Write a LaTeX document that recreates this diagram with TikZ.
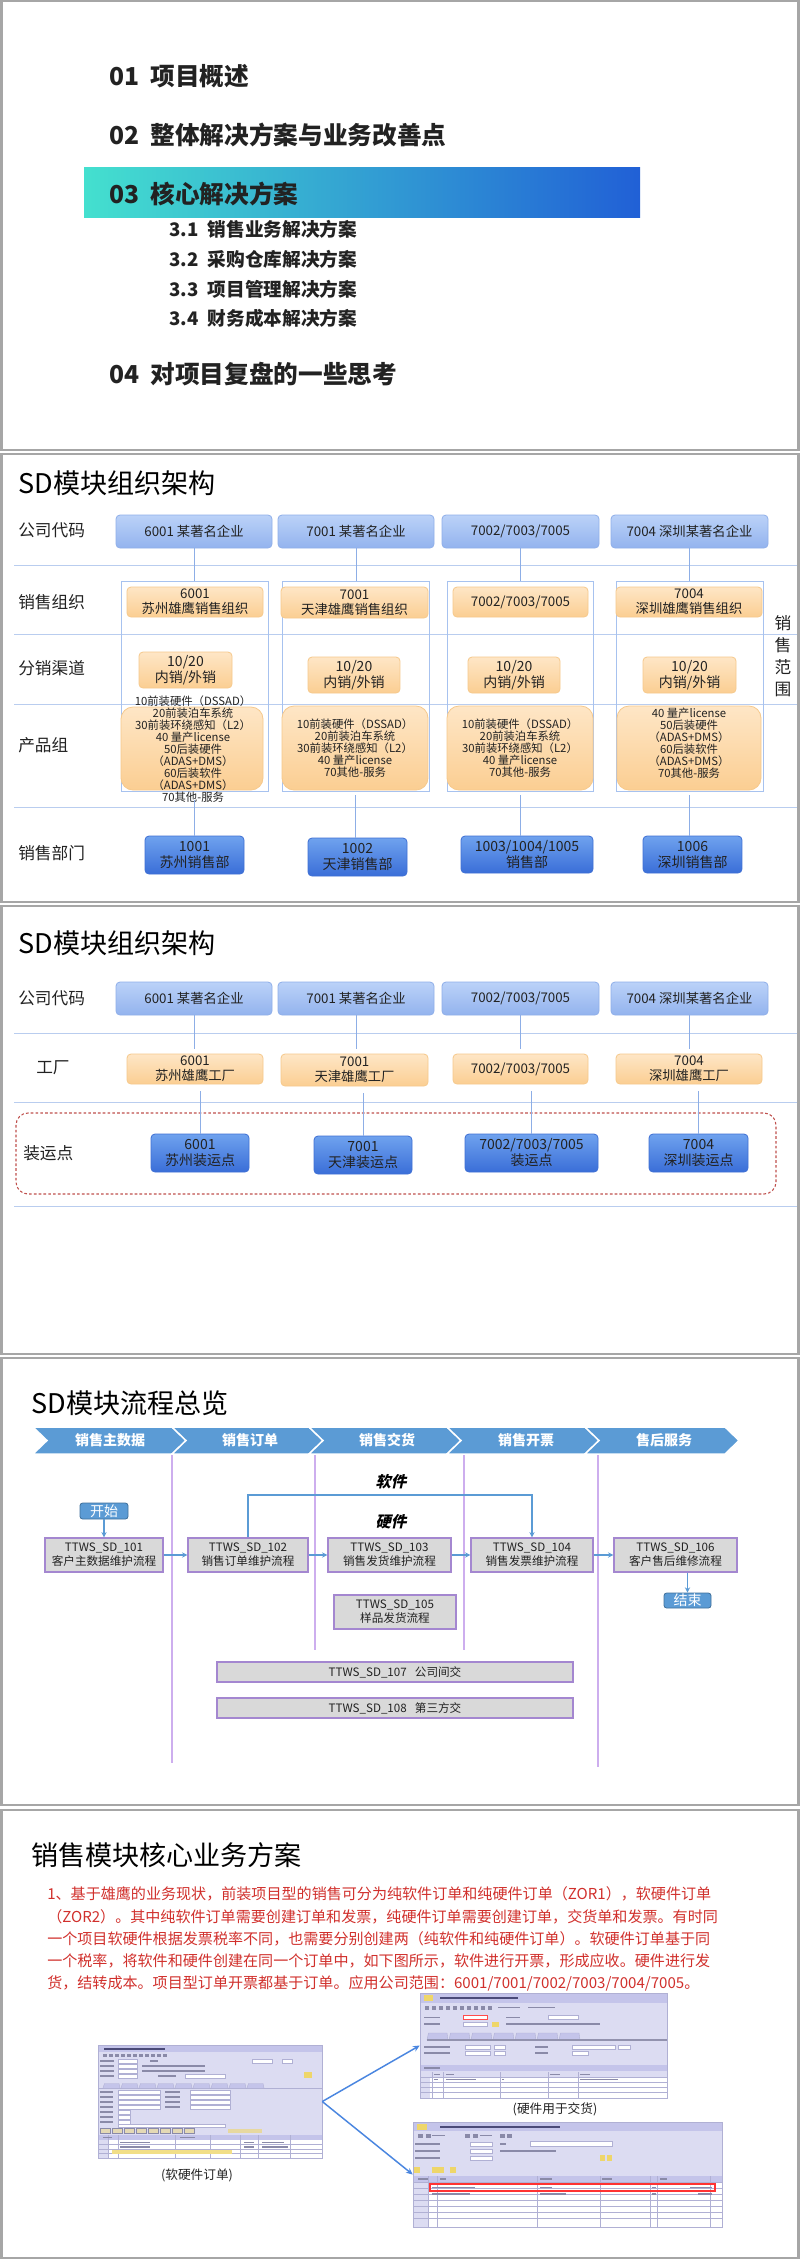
\documentclass[tikz,border=0pt]{standalone}
\usepackage{fontspec}
\setmainfont{Noto Sans CJK SC}
\newfontfamily\slantfont{Noto Sans CJK SC}[FakeSlant=0.22]
\usetikzlibrary{arrows.meta}
\definecolor{framegray}{HTML}{A6A6A6}
\definecolor{ink}{HTML}{222222}
\definecolor{coTop}{HTML}{BBD2F8}
\definecolor{coBot}{HTML}{93B3EE}
\definecolor{coLine}{HTML}{8FAFE9}
\definecolor{orTop}{HTML}{FEE6C6}
\definecolor{orBot}{HTML}{FBCE92}
\definecolor{orLine}{HTML}{F6C98C}
\definecolor{dpTop}{HTML}{6FA2EE}
\definecolor{dpBot}{HTML}{3A6ED8}
\definecolor{dpLine}{HTML}{3F70D4}
\definecolor{sepBlue}{HTML}{B9CDEF}
\definecolor{colLine}{HTML}{A7C2EF}
\definecolor{linkBlue}{HTML}{8DAEE6}
\definecolor{chev}{HTML}{5B9BD5}
\definecolor{procGray}{HTML}{D9D9D9}
\definecolor{procLine}{HTML}{A487D0}
\definecolor{purpleLine}{HTML}{CDAEEE}
\definecolor{flowBlue}{HTML}{5B9BD5}
\definecolor{termLine}{HTML}{41719C}
\definecolor{redText}{HTML}{D1302C}
\definecolor{dashRed}{HTML}{C0504D}
\definecolor{bandL}{HTML}{44E0CF}
\definecolor{bandR}{HTML}{2160D6}
\definecolor{sapBg}{HTML}{DCDCF2}
\definecolor{sapHead}{HTML}{C4C4EA}
\definecolor{sapLine}{HTML}{B0B0D4}
\definecolor{sapTxt}{HTML}{8A8AA8}
\definecolor{sapDark}{HTML}{4A4A78}
\definecolor{sapYel}{HTML}{EED66A}
\definecolor{arrowBlue}{HTML}{4A86E0}
\newcommand\fsz[2]{\fontsize{#1}{#2}\selectfont}
\newcommand\bx[7]{\node[#1, minimum width={((#5)-(#3))*0.75pt}, minimum height={((#6)-(#4))*0.75pt}] (#2) at ({((#3)+(#5))/2},{((#4)+(#6))/2}) {#7};}
\begin{document}
\begin{tikzpicture}[x=0.75pt,y=-0.75pt,
 slideframe/.style={draw=framegray,line width=1.6pt},
 ttl/.style={anchor=west,inner sep=0pt,font=\fsz{20.3}{24},text=black},
 rowlbl/.style={anchor=west,inner sep=0pt,font=\fsz{12.5}{15},text=ink},
 hOne/.style={anchor=west,inner sep=0pt,font=\fsz{18.5}{22}\bfseries,text=ink},
 hTwo/.style={anchor=west,inner sep=0pt,font=\fsz{14}{17}\bfseries,text=ink},
 boxbase/.style={inner sep=0pt,align=center,text=ink,line width=0.6pt},
 cobox/.style={boxbase,rounded corners=3pt,top color=coTop,bottom color=coBot,draw=coLine,font=\fsz{10}{12}},
 orbox/.style={boxbase,rounded corners=3pt,top color=orTop,bottom color=orBot,draw=orLine,font=\fsz{10}{11.3}},
 chbox/.style={orbox,font=\fsz{10.5}{12}},
 pgbox/.style={boxbase,rounded corners=9pt,top color=orTop,bottom color=orBot,draw=orLine},
 pgtext/.style={inner sep=0pt,align=center,text=ink,font=\fsz{8.5}{8.95}},
 dpbox/.style={boxbase,rounded corners=3pt,top color=dpTop,bottom color=dpBot,draw=dpLine,font=\fsz{10.5}{12}},
 colout/.style={draw=colLine,line width=0.6pt,inner sep=0pt},
 sepline/.style={draw=sepBlue,line width=0.7pt},
 vlink/.style={draw=linkBlue,line width=0.6pt},
 chevtxt/.style={inner sep=0pt,text=white,font=\fsz{10.5}{12}\bfseries},
 purp/.style={draw=purpleLine,line width=0.8pt},
 procbox/.style={boxbase,fill=procGray,draw=procLine,line width=0.9pt,font=\fsz{8.7}{10.5}},
 termbox/.style={boxbase,rounded corners=2pt,fill=chev,draw=termLine,text=white,font=\fsz{10.5}{12}},
 flowarr/.style={draw=flowBlue,line width=1.2pt,-{Stealth[length=4pt,width=4pt]}},
 slantlbl/.style={inner sep=0pt,font=\fsz{11.5}{13}\slantfont\bfseries,text=black},
 redline/.style={anchor=west,inner sep=0pt,text=redText,font=\fsz{11.3}{13}},
 sap/.style={fill=sapBg,draw=sapLine,line width=0.4pt,inner sep=0pt},
 sapT/.style={draw=sapTxt,line width=1.2pt},
 sapBox/.style={fill=white,draw=sapLine,line width=0.3pt},
 capt/.style={inner sep=0pt,text=ink,font=\fsz{9.5}{11}},
 sarrow/.style={draw=arrowBlue,line width=1.1pt,-{Stealth[length=5pt,width=4.5pt]}},
]
\useasboundingbox (0,0) rectangle (800,2259);
\fill[white] (0,0) rectangle (800,2259);
\foreach \t/\b in {0/450,453/902,905/1354,1357/1805,1809/2258}
  \draw[slideframe] (1.5,{\t+1}) rectangle (798.5,\b);

% ================= Slide 1 =================
\shade[left color=bandL,right color=bandR] (84,167) rectangle (640,217);
\node[hOne] (t01) at (109,76) {01\hspace{0.45em}项目概述};
\node[hOne] (t02) at (109,135) {02\hspace{0.45em}整体解决方案与业务改善点};
\node[hOne] (t03) at (109,194) {03\hspace{0.45em}核心解决方案};
\node[hTwo] (t31) at (169,229.5) {3.1\hspace{0.5em}销售业务解决方案};
\node[hTwo] (t32) at (169,259) {3.2\hspace{0.5em}采购仓库解决方案};
\node[hTwo] (t33) at (169,289) {3.3\hspace{0.5em}项目管理解决方案};
\node[hTwo] (t34) at (169,318) {3.4\hspace{0.5em}财务成本解决方案};
\node[hOne] (t04) at (109,374) {04\hspace{0.45em}对项目复盘的一些思考};

% ================= Slide 2 =================
\node[ttl] (s2t) at (18,483) {SD模块组织架构};
\node[rowlbl] (l2a) at (18,530) {公司代码};
\node[rowlbl] (l2b) at (18,602) {销售组织};
\node[rowlbl] (l2c) at (18,668) {分销渠道};
\node[rowlbl] (l2d) at (18,745) {产品组};
\node[rowlbl] (l2e) at (18,853) {销售部门};
\foreach \y in {565,634,704,807} \draw[sepline] (14,\y) -- (797,\y);
\bx{cobox}{a1}{116}{515}{272}{548}{6001 某著名企业}
\bx{cobox}{a2}{278}{515}{434}{548}{7001 某著名企业}
\bx{cobox}{a3}{442}{515}{599}{548}{7002/7003/7005}
\bx{cobox}{a4}{611}{515}{768}{548}{7004 深圳某著名企业}
\bx{colout}{k1}{121}{581}{268}{791}{}
\bx{colout}{k2}{282}{581}{429}{791}{}
\bx{colout}{k3}{447}{581}{593}{791}{}
\bx{colout}{k4}{616}{581}{763}{791}{}
\bx{orbox}{o1}{127}{587}{263}{617}{6001\\苏州雄鹰销售组织}
\bx{orbox}{o2}{281}{587}{428}{618}{7001\\天津雄鹰销售组织}
\bx{orbox}{o3}{453}{587}{588}{617}{7002/7003/7005}
\bx{orbox}{o4}{616}{587}{762}{617}{7004\\深圳雄鹰销售组织}
\bx{chbox}{d1}{139}{652}{232}{688}{10/20\\内销/外销}
\bx{chbox}{d2}{308}{657}{400}{693}{10/20\\内销/外销}
\bx{chbox}{d3}{468}{657}{560}{693}{10/20\\内销/外销}
\bx{chbox}{d4}{643}{657}{736}{693}{10/20\\内销/外销}
\bx{pgbox}{g1}{121}{707}{263}{790}{}
\bx{pgbox}{g2}{282}{706}{428}{790}{}
\bx{pgbox}{g3}{447}{706}{593}{790}{}
\bx{pgbox}{g4}{617}{706}{761}{790}{}
\node[pgtext] (g1t) at (193,749) {10前装硬件（DSSAD）\\20前装泊车系统\\30前装环绕感知（L2）\\40 量产license\\50后装硬件\\（ADAS+DMS）\\60后装软件\\（ADAS+DMS）\\70其他-服务};
\node[pgtext] (g2t) at (355,748) {10前装硬件（DSSAD）\\20前装泊车系统\\30前装环绕感知（L2）\\40 量产license\\70其他-服务};
\node[pgtext] (g3t) at (520,748) {10前装硬件（DSSAD）\\20前装泊车系统\\30前装环绕感知（L2）\\40 量产license\\70其他-服务};
\node[pgtext] (g4t) at (689,743) {40 量产license\\50后装硬件\\（ADAS+DMS）\\60后装软件\\（ADAS+DMS）\\70其他-服务};
\bx{dpbox}{e1}{145}{836}{244}{874}{1001\\苏州销售部}
\bx{dpbox}{e2}{308}{838}{407}{876}{1002\\天津销售部}
\bx{dpbox}{e3}{461}{836}{593}{873}{1003/1004/1005\\销售部}
\bx{dpbox}{e4}{643}{836}{742}{873}{1006\\深圳销售部}
\foreach \i in {1,2,3,4} \draw[vlink] (a\i.south) -- (a\i.south |- k\i.north);
\draw[vlink,shorten <=6.5pt] (k1.south) -- (k1.south |- e1.north);
\foreach \i in {2,3,4} \draw[vlink,shorten <=3pt] (k\i.south) -- (k\i.south |- e\i.north);
\node[rowlbl,anchor=center,align=center,font=\fsz{12.5}{16.5}] (scope) at (783,656) {销\\售\\范\\围};

% ================= Slide 3 =================
\node[ttl] (s3t) at (18,943) {SD模块组织架构};
\node[rowlbl] (l3a) at (18,998) {公司代码};
\node[rowlbl] (l3b) at (36,1068) {工厂};
\node[rowlbl] (l3c) at (23,1153) {装运点};
\foreach \y in {1033,1102,1206} \draw[sepline] (14,\y) -- (797,\y);
\bx{cobox}{b1}{116}{982}{272}{1015}{6001 某著名企业}
\bx{cobox}{b2}{278}{982}{434}{1015}{7001 某著名企业}
\bx{cobox}{b3}{442}{982}{599}{1015}{7002/7003/7005}
\bx{cobox}{b4}{611}{982}{768}{1015}{7004 深圳某著名企业}
\bx{orbox}{p1}{127}{1054}{263}{1084}{6001\\苏州雄鹰工厂}
\bx{orbox}{p2}{281}{1054}{428}{1086}{7001\\天津雄鹰工厂}
\bx{orbox}{p3}{453}{1054}{588}{1084}{7002/7003/7005}
\bx{orbox}{p4}{616}{1054}{762}{1084}{7004\\深圳雄鹰工厂}
\draw[dashRed,line width=0.8pt,dash pattern=on 2pt off 1.6pt,rounded corners=9pt] (16,1113) rectangle (776,1194);
\bx{dpbox}{q1}{151}{1134}{249}{1172}{6001\\苏州装运点}
\bx{dpbox}{q2}{314}{1136}{412}{1174}{7001\\天津装运点}
\bx{dpbox}{q3}{465}{1134}{598}{1172}{7002/7003/7005\\装运点}
\bx{dpbox}{q4}{649}{1134}{748}{1172}{7004\\深圳装运点}
\foreach \i in {1,2,3,4} \draw[vlink,shorten >=3.7pt] (b\i.south) -- (b\i.south |- p\i.north);
\foreach \i in {1,2,3,4} \draw[vlink,shorten >=5pt] (q\i.north) -- (q\i.north |- p\i.south);

% ================= Slide 4 =================
\node[ttl] (s4t) at (31,1403) {SD模块流程总览};
\foreach \L/\R/\tx/\lab [count=\i] in {33/172/110/销售主数据,172/309/250/销售订单,309/447/387/销售交货,447/585/526/销售开票,585/725/664/售后服务}{
  \filldraw[fill=chev,draw=white,line width=1.1pt] (\L,1427) -- (\R,1427) -- ({\R+14},1440.5) -- (\R,1454) -- (\L,1454) -- ({\L+14},1440.5) -- cycle;
  \node[chevtxt] (chev\i) at (\tx,1440.5) {\lab};
}
\draw[purp] (172,1455) -- (172,1763);
\draw[purp] (315,1455) -- (315,1650);
\draw[purp] (464,1455) -- (464,1650);
\draw[purp] (598,1455) -- (598,1767);
\bx{procbox}{f101}{45}{1538}{163}{1572}{TTWS\_SD\_101\\客户主数据维护流程}
\bx{procbox}{f102}{188}{1538}{308}{1572}{TTWS\_SD\_102\\销售订单维护流程}
\bx{procbox}{f103}{328}{1538}{451}{1572}{TTWS\_SD\_103\\销售发货维护流程}
\bx{procbox}{f104}{471}{1538}{593}{1572}{TTWS\_SD\_104\\销售发票维护流程}
\bx{procbox}{f106}{614}{1538}{737}{1572}{TTWS\_SD\_106\\客户售后维修流程}
\bx{procbox}{f105}{334}{1595}{456}{1629}{TTWS\_SD\_105\\样品发货流程}
\bx{procbox}{f107}{217}{1662}{573}{1682}{TTWS\_SD\_107\hspace{0.7em}公司间交}
\bx{procbox}{f108}{217}{1698}{573}{1718}{TTWS\_SD\_108\hspace{0.7em}第三方交}
\bx{termbox}{startnode}{80}{1503}{128}{1519}{开始}
\bx{termbox}{stopnode}{664}{1593}{711}{1608}{结束}
\node[slantlbl] (swlbl) at (391,1482) {软件};
\node[slantlbl] (hwlbl) at (391,1522) {硬件};
\draw[flowarr] (startnode.south) -- (f101.north);
\draw[flowarr] (f101.east) -- (f102.west);
\draw[flowarr] (f102.east) -- (f103.west);
\draw[flowarr] (f103.east) -- (f104.west);
\draw[flowarr] (f104.east) -- (f106.west);
\draw[flowarr] (stopnode.north |- f106.south) -- (stopnode.north);
\coordinate (swtop) at (0,1495);
\draw[flowarr] (f102.north) -- (f102.north |- swtop) -| (f104.north);

% ================= Slide 5 =================
\node[ttl] (s5t) at (31,1855) {销售模块核心业务方案};
\node[redline] (r1) at (47,1894) {1、基于雄鹰的业务现状，前装项目型的销售可分为纯软件订单和纯硬件订单（ZOR1），软硬件订单};
\node[redline] (r2) at (47,1917) {（ZOR2）。其中纯软件订单需要创建订单和发票，纯硬件订单需要创建订单，交货单和发票。有时同};
\node[redline] (r3) at (47,1939) {一个项目软硬件根据发票税率不同，也需要分别创建两（纯软件和纯硬件订单）。软硬件订单基于同};
\node[redline] (r4) at (47,1961) {一个税率，将软件和硬件创建在同一个订单中，如下图所示，软件进行开票，形成应收。硬件进行发};
\node[redline] (r5) at (47,1983) {货，结转成本。项目型订单开票都基于订单。应用公司范围：6001/7001/7002/7003/7004/7005。};

% --- left screenshot
\bx{sap}{ssL}{98}{2045}{322}{2158}{}
\fill[sapHead] (98.5,2045.5) rectangle (321.5,2052);
\draw[sapDark,line width=1.5pt] (104,2048.7) -- (165,2048.7);
\foreach \x in {103,109,...,163} \fill[sapTxt] (\x,2053.5) rectangle ++(3.5,3);
\foreach \y in {2061,2066,2071,2076}{
  \draw[sapT] (100,\y) -- (114,\y);
  \filldraw[sapBox] (118,{\y-2}) rectangle (137,{\y+2});
}
\foreach \y in {2066,2071} \draw[sapT] (142,\y) -- (205,\y);
\draw[sapT] (150,2061) -- (158,2061);
\filldraw[sapBox] (252,2059) rectangle (272,2063);
\filldraw[sapBox] (282,2059) rectangle (292,2063);
\filldraw[sapBox] (185,2074) rectangle (225,2078);
\draw[sapT] (158,2076) -- (176,2076);
\fill[sapYel] (304,2072) rectangle (312,2078);
\draw[sapLine,line width=0.6pt] (98.5,2088) -- (321.5,2088);
\foreach \x in {103,121,...,247} \filldraw[fill=sapHead,draw=sapLine,line width=0.3pt] (\x,2088) -- ({\x+1.5},2083.5) -- ({\x+16},2083.5) -- ({\x+17},2088);
\foreach \y in {2092,2097,2102,2107,2112,2117,2122} \draw[sapT] (100,\y) -- (113,\y);
\foreach \y in {2092,2097,2102,2107}{
  \filldraw[sapBox] (118,{\y-1.8}) rectangle (160,{\y+1.8});
  \draw[sapT] (165,\y) -- (180,\y);
  \filldraw[sapBox] (190,{\y-1.8}) rectangle (230,{\y+1.8});
}
\foreach \y in {2112,2117,2122} \filldraw[sapBox] (118,{\y-1.8}) rectangle (130,{\y+1.8});
\filldraw[sapBox] (118,2124.5) rectangle (225,2127.5);
\foreach \x in {100,112,124,136,148,160,172,184} \filldraw[fill=sapYel!45!sapBg,draw=sapTxt,line width=0.3pt] (\x,2128.5) rectangle ({\x+10},2133);
\fill[sapYel!60!sapBg] (228,2128.5) rectangle (262,2133);
\fill[sapHead] (98.5,2135) rectangle (321.5,2140);
\fill[white] (108,2140) rectangle (321.5,2157.5);
\foreach \y in {2144.5,2149,2153.5} \draw[sapLine,line width=0.3pt] (98.5,\y) -- (321.5,\y);
\foreach \x in {108,118,175,210,240,258,290} \draw[sapLine,line width=0.3pt] (\x,2135) -- (\x,2157.5);
\fill[sapYel!80] (112,2150) rectangle (232,2153.5);
\draw[sapT] (120,2142.5) -- (150,2142.5);
\draw[sapT] (120,2147) -- (150,2147);
\draw[sapT] (244,2142.5) -- (254,2142.5);
\draw[sapT] (262,2142.5) -- (284,2142.5);
\draw[sapT] (244,2147) -- (254,2147);
\draw[sapT] (262,2147) -- (288,2147);
\draw[sapT] (103,2137.5) -- (112,2137.5);
\draw[sapT] (180,2137.5) -- (195,2137.5);

% --- top right screenshot
\bx{sap}{ssT}{420}{1993}{667}{2098}{}
\fill[sapHead] (420.5,1993.5) rectangle (666.5,2002.5);
\fill[sapYel] (424,1995) rectangle (433,2001);
\draw[sapDark,line width=1.6pt] (440,1998) -- (518,1998);
\foreach \x in {425,432,...,488} \fill[sapTxt] (\x,2005.5) rectangle ++(4,4);
\draw[sapT] (498,2007.5) -- (520,2007.5);
\draw[sapT] (528,2007.5) -- (555,2007.5);
\draw[sapT] (424,2017.5) -- (440,2017.5);
\draw[sapT] (424,2024) -- (440,2024);
\filldraw[fill=white,draw=red!70,line width=0.5pt] (463,2015.5) rectangle (487,2019.5);
\filldraw[sapBox] (463,2022) rectangle (487,2026);
\fill[sapYel] (492,2021.5) rectangle (499,2027);
\draw[sapT] (506,2017.5) -- (520,2017.5);
\filldraw[sapBox] (548,2015.5) rectangle (578,2019.5);
\draw[sapT] (506,2024) -- (600,2024);
\foreach \x in {427,449,...,559} \filldraw[fill=sapHead,draw=sapLine,line width=0.3pt] (\x,2040) -- ({\x+1.5},2033) -- ({\x+20},2033) -- ({\x+21},2040);
\draw[color=sapDark!60,line width=1pt] (427,2040) -- (666.5,2040);
\foreach \y in {2047,2053}{
  \draw[sapT] (424,\y) -- (450,\y);
  \filldraw[sapBox] (465,{\y-2}) rectangle (490,{\y+2});
  \filldraw[sapBox] (494,{\y-2}) rectangle (505,{\y+2});
  \draw[sapT] (535,\y) -- (548,\y);
  \filldraw[sapBox] (572,{\y-2}) rectangle (588,{\y+2});
}
\filldraw[sapBox] (572,2045) rectangle (615,2049);
\filldraw[sapBox] (618,2045) rectangle (630,2049);
\fill[sapHead] (420.5,2065) rectangle (666.5,2071);
\draw[sapT] (424,2068) -- (440,2068);
\fill[white] (430,2077) rectangle (666.5,2097.5);
\foreach \y in {2077,2082,2087,2092} \draw[sapLine,line width=0.3pt] (420.5,\y) -- (666.5,\y);
\foreach \x in {432,443,500,548,578} \draw[sapLine,line width=0.3pt] (\x,2072) -- (\x,2097.5);
\draw[sapT] (434,2074.5) -- (440,2074.5);
\draw[sapT] (446,2074.5) -- (454,2074.5);
\draw[sapT] (550,2074.5) -- (560,2074.5);
\draw[sapT] (580,2074.5) -- (590,2074.5);
\draw[sapT] (434,2079.5) -- (438,2079.5);
\draw[sapT] (446,2079.5) -- (476,2079.5);
\draw[sapT] (502,2079.5) -- (504,2079.5);
\draw[sapT] (580,2079.5) -- (618,2079.5);

% --- bottom right screenshot
\bx{sap}{ssB}{413}{2122}{722}{2227}{}
\fill[sapHead] (413.5,2122.5) rectangle (721.5,2131);
\fill[sapYel] (417,2124) rectangle (427,2129.5);
\draw[sapDark,line width=1.6pt] (440,2126.7) -- (560,2126.7);
\foreach \x in {418,426,465,473,500,507} \fill[sapTxt] (\x,2133.5) rectangle ++(5,4);
\draw[sapT] (432,2135.5) -- (445,2135.5);
\draw[sapT] (480,2135.5) -- (492,2135.5);
\foreach \y in {2144,2151,2158}{
  \draw[sapT] (415,\y) -- (440,\y);
  \filldraw[sapBox] (470,{\y-2.2}) rectangle (492,{\y+2.2});
}
\draw[sapT] (500,2144) -- (506,2144);
\filldraw[sapBox] (530,2141.5) rectangle (612,2146.5);
\draw[sapT] (500,2151) -- (556,2151);
\fill[sapYel] (600,2155) rectangle (605,2161);
\fill[sapYel] (607,2155) rectangle (612,2161);
\fill[sapYel] (414,2167) rectangle (420,2173);
\fill[sapYel] (432,2167) rectangle (444,2173);
\fill[sapYel] (450,2167) rectangle (456,2173);
\fill[sapHead] (413.5,2176) rectangle (721.5,2182);
\fill[white] (428,2182) rectangle (721.5,2226.5);
\foreach \y in {2182,2188,2194,2200,2206,2212,2218} \draw[sapLine,line width=0.3pt] (413.5,\y) -- (721.5,\y);
\foreach \x in {428,437,537,600,650,657,710} \draw[sapLine,line width=0.3pt] (\x,2176) -- (\x,2226.5);
\draw[sapT] (418,2179) -- (428,2179);
\draw[sapT] (440,2179) -- (446,2179);
\draw[sapT] (540,2179) -- (552,2179);
\draw[sapT] (602,2179) -- (612,2179);
\draw[sapT] (660,2179) -- (667,2179);
\draw[sapT] (432,2187.5) -- (475,2187.5);
\draw[sapT] (540,2187.5) -- (552,2187.5);
\draw[sapT] (652,2187.5) -- (656,2187.5);
\draw[sapT] (690,2187.5) -- (712,2187.5);
\draw[sapT] (432,2193.8) -- (470,2193.8);
\draw[sapT] (540,2193.8) -- (566,2193.8);
\draw[sapT] (652,2193.8) -- (656,2193.8);
\draw[sapT] (698,2193.8) -- (712,2193.8);
\draw[red!80,line width=0.8pt] (430,2184) rectangle (715,2191);

\node[capt] (capT) at (555,2109) {(硬件用于交货)};
\node[capt] (capL) at (197,2175) {(软硬件订单)};
\draw[sarrow] (ssL.east) -- (ssT.west);
\draw[sarrow] (ssL.east) -- (ssB.west);
\end{tikzpicture}
\end{document}
